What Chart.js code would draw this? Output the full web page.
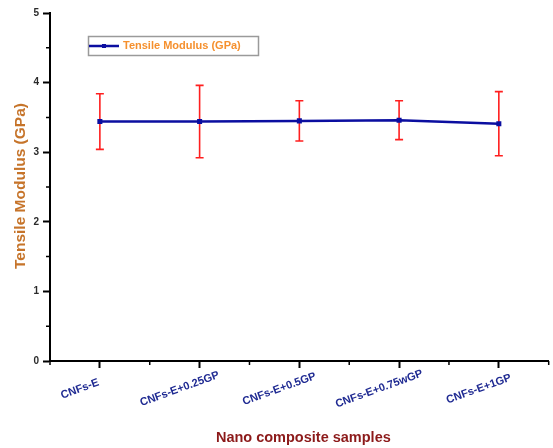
<!DOCTYPE html>
<html>
<head>
<meta charset="utf-8">
<script src="https://cdn.jsdelivr.net/npm/chart.js@4/dist/chart.umd.min.js"></script>
<style>
  html, body { margin: 0; padding: 0; background: #fff; }
  #wrap { width: 553px; height: 448px; position: relative; }
</style>
</head>
<body>
<div id="wrap"><canvas id="c"></canvas></div>
<script>
// Sample groups along the x axis
const categories = ['CNFs-E', 'CNFs-E+0.25GP', 'CNFs-E+0.5GP', 'CNFs-E+0.75wGP', 'CNFs-E+1GP'];
// Mean tensile modulus (GPa) for each sample
const modulus = [3.44, 3.44, 3.45, 3.46, 3.41];
// Standard deviation (GPa), drawn as symmetric error bars
const modulusError = [0.40, 0.52, 0.29, 0.28, 0.46];
// Y axis range and steps
const yTicks = [0, 1, 2, 3, 4, 5];
const yMinorStep = 0.5;

const seriesLabel = 'Tensile Modulus (GPa)';
const xTitle = 'Nano composite samples';
const yTitle = 'Tensile Modulus (GPa)';

const FONT = '"Liberation Sans", Arial, sans-serif';
const LINE_COLOR = '#0b0ea0';

// Error bars, minor ticks, rotated category labels, axis titles and the boxed legend
const decorations = {
  id: 'decorations',
  beforeDatasetsDraw(chart) {
    const ctx = chart.ctx;
    const x = chart.scales.x, y = chart.scales.y;
    ctx.save();
    ctx.strokeStyle = '#ff1f1f';
    ctx.lineWidth = 1.6;
    modulus.forEach((v, i) => {
      const px = x.getPixelForValue(i);
      const top = y.getPixelForValue(v + modulusError[i]);
      const bot = y.getPixelForValue(v - modulusError[i]);
      ctx.beginPath();
      ctx.moveTo(px, top); ctx.lineTo(px, bot);
      ctx.moveTo(px - 4, top); ctx.lineTo(px + 4, top);
      ctx.moveTo(px - 4, bot); ctx.lineTo(px + 4, bot);
      ctx.stroke();
    });
    ctx.restore();
  },
  afterDraw(chart) {
    const ctx = chart.ctx;
    const x = chart.scales.x, y = chart.scales.y;
    const area = chart.chartArea;
    ctx.save();
    // minor ticks
    ctx.strokeStyle = '#000';
    ctx.lineWidth = 1.5;
    ctx.beginPath();
    for (let v = yTicks[0] + yMinorStep; v < yTicks[yTicks.length - 1]; v += 2 * yMinorStep) {
      const py = y.getPixelForValue(v);
      ctx.moveTo(area.left - 4, py); ctx.lineTo(area.left, py);
    }
    for (let i = 0; i <= categories.length; i++) {
      const px = area.left + (area.right - area.left) * i / categories.length;
      ctx.moveTo(px, area.bottom); ctx.lineTo(px, area.bottom + 4);
    }
    ctx.stroke();

    // rotated category labels
    ctx.fillStyle = '#1f2a92';
    ctx.font = 'bold 11px ' + FONT;
    ctx.textAlign = 'center';
    ctx.textBaseline = 'middle';
    categories.forEach((c, i) => {
      const px = x.getPixelForValue(i) - 20;
      ctx.save();
      ctx.translate(px, area.bottom + 28);
      ctx.rotate(-20 * Math.PI / 180);
      ctx.fillText(c, 0, 0);
      ctx.restore();
    });

    // axis titles
    ctx.font = 'bold 14.5px ' + FONT;
    ctx.fillStyle = '#8c1a1a';
    ctx.fillText(xTitle, (area.left + area.right) / 2 + 4, 438);
    ctx.save();
    ctx.translate(21, 186);
    ctx.rotate(-Math.PI / 2);
    ctx.font = 'bold 15.5px ' + FONT;
    ctx.fillStyle = '#c6742a';
    ctx.fillText(yTitle, 0, 0);
    ctx.restore();

    // legend box
    const lx = 88, ly = 36, lw = 170, lh = 19;
    ctx.strokeStyle = '#9a9a9a';
    ctx.lineWidth = 1.5;
    ctx.strokeRect(lx + 0.5, ly + 0.5, lw, lh);
    const my = ly + lh / 2 + 0.5;
    ctx.strokeStyle = LINE_COLOR;
    ctx.lineWidth = 2.5;
    ctx.beginPath();
    ctx.moveTo(lx + 1, my); ctx.lineTo(lx + 31, my);
    ctx.stroke();
    ctx.fillStyle = LINE_COLOR;
    ctx.fillRect(lx + 14, my - 2, 4, 4);
    ctx.fillStyle = '#f5902e';
    ctx.font = 'bold 11px ' + FONT;
    ctx.textAlign = 'left';
    ctx.fillText(chart.data.datasets[0].label, lx + 35, my);
    ctx.restore();
  }
};

new Chart(document.getElementById('c'), {
  type: 'line',
  data: {
    labels: categories,
    datasets: [{
      label: seriesLabel,
      data: modulus,
      borderColor: LINE_COLOR,
      backgroundColor: LINE_COLOR,
      borderWidth: 2.5,
      pointStyle: 'rect',
      pointRadius: 1.8,
      pointHoverRadius: 1.8,
      tension: 0
    }]
  },
  options: {
    responsive: true,
    maintainAspectRatio: false,
    animation: false,
    events: [],
    layout: { padding: { left: 0, right: 3, top: 13, bottom: 0 } },
    plugins: {
      legend: { display: false },
      tooltip: { enabled: false }
    },
    scales: {
      x: {
        type: 'category',
        offset: true,
        grid: { display: true, drawOnChartArea: false, offset: false, drawTicks: true, tickLength: 7, tickWidth: 2, tickColor: '#000' },
        border: { display: true, color: '#000', width: 2 },
        ticks: { display: false },
        afterFit(scale) { scale.height = 87; }
      },
      y: {
        min: yTicks[0],
        max: yTicks[yTicks.length - 1],
        afterBuildTicks(scale) { scale.ticks = yTicks.map(v => ({ value: v })); },
        grid: { display: true, drawOnChartArea: false, drawTicks: true, tickLength: 7, tickWidth: 2, tickColor: '#000' },
        border: { display: true, color: '#000', width: 2 },
        ticks: {
          padding: 4,
          color: '#2a2a2a',
          font: { family: FONT, size: 10, weight: 'bold' }
        },
        afterFit(scale) { scale.width = 50; }
      }
    }
  },
  plugins: [decorations]
});
</script>
</body>
</html>
